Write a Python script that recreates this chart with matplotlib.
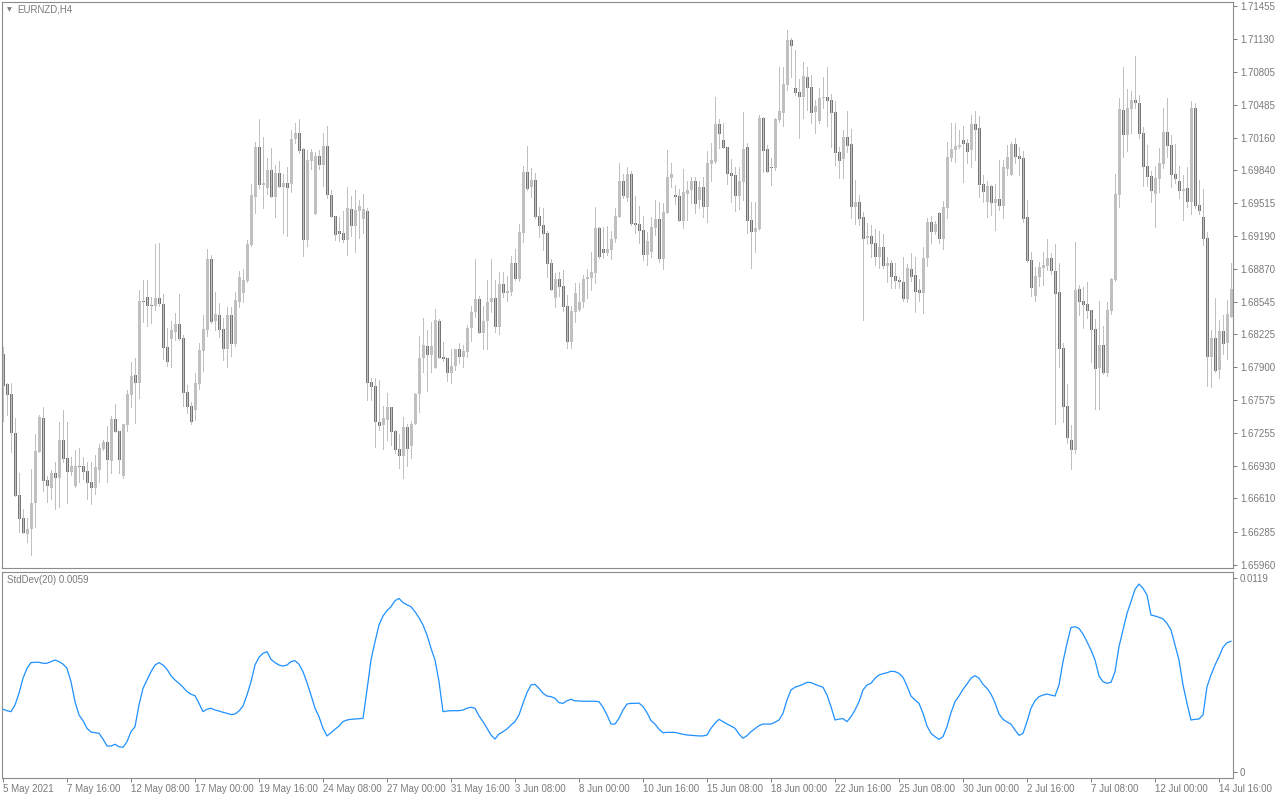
import numpy as np
import matplotlib
matplotlib.use('agg')
import matplotlib.pyplot as plt

# EURNZD H4 candles, bar 0 = 5 May 2021 00:00
opens = [
    1.6803, 1.6774, 1.6764, 1.6725, 1.6664, 1.6642, 1.6626, 1.6631, 1.6657, 1.6707,
    1.6740, 1.6679, 1.6671, 1.6686, 1.6681, 1.6719, 1.6701, 1.6687, 1.6673, 1.6693,
    1.6693, 1.6688, 1.6677, 1.6671, 1.6689, 1.6710, 1.6717, 1.6698, 1.6739, 1.6727,
    1.6683, 1.6733, 1.6763, 1.6782, 1.6775, 1.6855, 1.6859, 1.6851, 1.6850, 1.6858,
    1.6852, 1.6810, 1.6818, 1.6825, 1.6833, 1.6819, 1.6766, 1.6752, 1.6748, 1.6774,
    1.6806, 1.6827, 1.6897, 1.6836, 1.6841, 1.6828, 1.6808, 1.6841, 1.6813, 1.6854,
    1.6863, 1.6875, 1.6910, 1.6958, 1.7007, 1.6969, 1.6966, 1.6984, 1.6958, 1.6981,
    1.6967, 1.6971, 1.6970, 1.7015, 1.7021, 1.7005, 1.6915, 1.6993, 1.6941, 1.6998,
    1.6989, 1.7008, 1.6960, 1.6939, 1.6924, 1.6922, 1.6915, 1.6946, 1.6929, 1.6944,
    1.6936, 1.6944, 1.6776, 1.6772, 1.6736, 1.6733, 1.6738, 1.6751, 1.6727, 1.6710,
    1.6703, 1.6731, 1.6713, 1.6734, 1.6764, 1.6799, 1.6811, 1.6802, 1.6789, 1.6836,
    1.6800, 1.6799, 1.6784, 1.6791, 1.6808, 1.6800, 1.6805, 1.6829, 1.6844, 1.6857,
    1.6824, 1.6836, 1.6854, 1.6858, 1.6830, 1.6872, 1.6863, 1.6864, 1.6893, 1.6877,
    1.6922, 1.6982, 1.6967, 1.6974, 1.6939, 1.6930, 1.6922, 1.6893, 1.6858, 1.6877,
    1.6870, 1.6850, 1.6815, 1.6844, 1.6846, 1.6854, 1.6877, 1.6878, 1.6883, 1.6927,
    1.6906, 1.6902, 1.6905, 1.6916, 1.6938, 1.6973, 1.6957, 1.6980, 1.6932, 1.6931,
    1.6925, 1.6901, 1.6903, 1.6927, 1.6936, 1.6897, 1.6942, 1.6976, 1.6960, 1.6959,
    1.6934, 1.6961, 1.6964, 1.6973, 1.6955, 1.6967, 1.6948, 1.6990, 1.6992, 1.7029,
    1.7014, 1.7007, 1.6981, 1.6979, 1.6959, 1.6972, 1.7007, 1.6935, 1.6923, 1.6926,
    1.7035, 1.7005, 1.6987, 1.6986, 1.7033, 1.7040, 1.7068, 1.7112, 1.7065, 1.7061,
    1.7056, 1.7076, 1.7066, 1.7041, 1.7032, 1.7055, 1.7056, 1.7053, 1.7041, 1.7002,
    1.6995, 1.7017, 1.7010, 1.6948, 1.6953, 1.6938, 1.6917, 1.6919, 1.6912, 1.6899,
    1.6908, 1.6890, 1.6893, 1.6880, 1.6876, 1.6874, 1.6857, 1.6887, 1.6881, 1.6866,
    1.6863, 1.6898, 1.6933, 1.6923, 1.6942, 1.6916, 1.6947, 1.6996, 1.7004, 1.7007,
    1.7014, 1.7011, 1.7004, 1.7029, 1.7025, 1.6970, 1.6953, 1.6968, 1.6952, 1.6956,
    1.6949, 1.6985, 1.6979, 1.7010, 1.6998, 1.6996, 1.6938, 1.6896, 1.6860, 1.6879,
    1.6888, 1.6890, 1.6898, 1.6885, 1.6864, 1.6809, 1.6752, 1.6719, 1.6709, 1.6867,
    1.6855, 1.6852, 1.6846, 1.6828, 1.6789, 1.6812, 1.6784, 1.6845, 1.6876, 1.6960,
    1.7043, 1.7019, 1.7044, 1.7053, 1.7050, 1.7021, 1.6988, 1.6978, 1.6961, 1.6975,
    1.6990, 1.7022, 1.7009, 1.6980, 1.6973, 1.6963, 1.6966, 1.6953, 1.7045, 1.6950,
    1.6938, 1.6917, 1.6800, 1.6819, 1.6787, 1.6826, 1.6814, 1.6840,
]
highs = [
    1.6810, 1.6775, 1.6775, 1.6740, 1.6686, 1.6651, 1.6642, 1.6690, 1.6724, 1.6743,
    1.6751, 1.6683, 1.6689, 1.6697, 1.6736, 1.6748, 1.6736, 1.6702, 1.6709, 1.6711,
    1.6702, 1.6697, 1.6697, 1.6704, 1.6715, 1.6719, 1.6732, 1.6742, 1.6754, 1.6727,
    1.6734, 1.6768, 1.6795, 1.6799, 1.6866, 1.6876, 1.6876, 1.6859, 1.6911, 1.6912,
    1.6862, 1.6829, 1.6836, 1.6843, 1.6862, 1.6822, 1.6773, 1.6756, 1.6784, 1.6814,
    1.6841, 1.6906, 1.6901, 1.6864, 1.6853, 1.6839, 1.6849, 1.6849, 1.6864, 1.6885,
    1.6887, 1.6915, 1.6970, 1.7012, 1.7034, 1.7017, 1.6996, 1.7006, 1.6989, 1.6993,
    1.6980, 1.6987, 1.7023, 1.7030, 1.7034, 1.7006, 1.7004, 1.7005, 1.7002, 1.7004,
    1.7021, 1.7027, 1.6964, 1.6939, 1.6938, 1.6944, 1.6967, 1.6959, 1.6964, 1.6955,
    1.6961, 1.6947, 1.6780, 1.6780, 1.6778, 1.6752, 1.6765, 1.6751, 1.6728, 1.6724,
    1.6741, 1.6734, 1.6737, 1.6765, 1.6821, 1.6839, 1.6827, 1.6835, 1.6847, 1.6838,
    1.6815, 1.6799, 1.6808, 1.6808, 1.6814, 1.6812, 1.6832, 1.6850, 1.6897, 1.6860,
    1.6850, 1.6876, 1.6897, 1.6876, 1.6884, 1.6884, 1.6880, 1.6900, 1.6906, 1.6931,
    1.6988, 1.7008, 1.6986, 1.6981, 1.6948, 1.6947, 1.6924, 1.6897, 1.6883, 1.6884,
    1.6886, 1.6861, 1.6850, 1.6873, 1.6873, 1.6881, 1.6887, 1.6903, 1.6948, 1.6928,
    1.6928, 1.6929, 1.6924, 1.6947, 1.6991, 1.6980, 1.6987, 1.6983, 1.6959, 1.6949,
    1.6939, 1.6923, 1.6938, 1.6955, 1.6953, 1.6952, 1.7004, 1.6991, 1.6969, 1.6965,
    1.6985, 1.6973, 1.6977, 1.6977, 1.6973, 1.6977, 1.7003, 1.7011, 1.7056, 1.7034,
    1.7030, 1.7007, 1.6995, 1.6987, 1.6987, 1.7041, 1.7011, 1.6953, 1.6953, 1.7038,
    1.7036, 1.7009, 1.6996, 1.7035, 1.7085, 1.7085, 1.7122, 1.7114, 1.7102, 1.7074,
    1.7090, 1.7085, 1.7078, 1.7053, 1.7065, 1.7076, 1.7085, 1.7059, 1.7052, 1.7007,
    1.7023, 1.7042, 1.7024, 1.6974, 1.6960, 1.6943, 1.6932, 1.6930, 1.6926, 1.6924,
    1.6921, 1.6899, 1.6896, 1.6893, 1.6879, 1.6899, 1.6892, 1.6902, 1.6899, 1.6877,
    1.6908, 1.6937, 1.6939, 1.6934, 1.6943, 1.6954, 1.7012, 1.7030, 1.7030, 1.7023,
    1.7027, 1.7015, 1.7038, 1.7042, 1.7037, 1.6979, 1.6973, 1.6969, 1.6970, 1.6994,
    1.6994, 1.7009, 1.7012, 1.7016, 1.7007, 1.7003, 1.6955, 1.6903, 1.6889, 1.6894,
    1.6903, 1.6916, 1.6902, 1.6911, 1.6893, 1.6814, 1.6774, 1.6733, 1.6913, 1.6871,
    1.6869, 1.6874, 1.6846, 1.6838, 1.6855, 1.6831, 1.6854, 1.6878, 1.6980, 1.7055,
    1.7085, 1.7064, 1.7062, 1.7096, 1.7058, 1.7026, 1.7009, 1.6983, 1.6988, 1.7006,
    1.7045, 1.7055, 1.7019, 1.7010, 1.6988, 1.6979, 1.6987, 1.7052, 1.7050, 1.6974,
    1.6965, 1.6923, 1.6827, 1.6858, 1.6837, 1.6841, 1.6856, 1.6893,
]
lows = [
    1.6737, 1.6743, 1.6707, 1.6663, 1.6628, 1.6627, 1.6618, 1.6605, 1.6633, 1.6707,
    1.6668, 1.6658, 1.6660, 1.6651, 1.6653, 1.6697, 1.6657, 1.6684, 1.6672, 1.6677,
    1.6680, 1.6660, 1.6656, 1.6665, 1.6677, 1.6709, 1.6677, 1.6686, 1.6726, 1.6686,
    1.6681, 1.6727, 1.6751, 1.6735, 1.6760, 1.6835, 1.6831, 1.6834, 1.6846, 1.6850,
    1.6798, 1.6791, 1.6790, 1.6817, 1.6817, 1.6752, 1.6745, 1.6734, 1.6738, 1.6769,
    1.6786, 1.6821, 1.6834, 1.6827, 1.6820, 1.6797, 1.6790, 1.6801, 1.6811, 1.6849,
    1.6854, 1.6874, 1.6909, 1.6942, 1.6966, 1.6947, 1.6961, 1.6958, 1.6938, 1.6967,
    1.6922, 1.6919, 1.6962, 1.7011, 1.7001, 1.6900, 1.6909, 1.6985, 1.6941, 1.6985,
    1.6968, 1.6957, 1.6938, 1.6915, 1.6914, 1.6913, 1.6901, 1.6919, 1.6903, 1.6917,
    1.6922, 1.6758, 1.6758, 1.6712, 1.6728, 1.6710, 1.6719, 1.6714, 1.6706, 1.6691,
    1.6681, 1.6693, 1.6701, 1.6734, 1.6746, 1.6785, 1.6767, 1.6785, 1.6789, 1.6799,
    1.6796, 1.6777, 1.6775, 1.6787, 1.6794, 1.6790, 1.6800, 1.6816, 1.6840, 1.6824,
    1.6808, 1.6808, 1.6844, 1.6825, 1.6823, 1.6859, 1.6855, 1.6861, 1.6876, 1.6875,
    1.6913, 1.6964, 1.6958, 1.6937, 1.6918, 1.6905, 1.6879, 1.6866, 1.6849, 1.6860,
    1.6845, 1.6809, 1.6809, 1.6835, 1.6845, 1.6849, 1.6858, 1.6866, 1.6873, 1.6898,
    1.6898, 1.6901, 1.6897, 1.6913, 1.6938, 1.6957, 1.6954, 1.6930, 1.6922, 1.6912,
    1.6896, 1.6891, 1.6899, 1.6920, 1.6894, 1.6887, 1.6942, 1.6967, 1.6951, 1.6934,
    1.6927, 1.6935, 1.6952, 1.6942, 1.6947, 1.6938, 1.6933, 1.6973, 1.6991, 1.7006,
    1.7006, 1.6970, 1.6953, 1.6944, 1.6946, 1.6955, 1.6922, 1.6888, 1.6903, 1.6925,
    1.6982, 1.6982, 1.6969, 1.6984, 1.7031, 1.7027, 1.7063, 1.7076, 1.7058, 1.7016,
    1.7035, 1.7043, 1.7030, 1.7021, 1.7030, 1.7045, 1.7027, 1.7007, 1.6989, 1.6976,
    1.6976, 1.7002, 1.6937, 1.6931, 1.6930, 1.6837, 1.6911, 1.6899, 1.6891, 1.6888,
    1.6888, 1.6874, 1.6868, 1.6868, 1.6868, 1.6855, 1.6854, 1.6875, 1.6844, 1.6855,
    1.6843, 1.6890, 1.6912, 1.6921, 1.6912, 1.6906, 1.6937, 1.6993, 1.6992, 1.7006,
    1.6972, 1.6991, 1.6987, 1.6994, 1.6958, 1.6953, 1.6938, 1.6940, 1.6925, 1.6945,
    1.6937, 1.6979, 1.6979, 1.6991, 1.6979, 1.6933, 1.6894, 1.6860, 1.6855, 1.6870,
    1.6871, 1.6886, 1.6882, 1.6734, 1.6790, 1.6736, 1.6716, 1.6690, 1.6706, 1.6841,
    1.6829, 1.6839, 1.6795, 1.6749, 1.6749, 1.6783, 1.6781, 1.6842, 1.6875, 1.6948,
    1.6997, 1.7003, 1.7021, 1.7045, 1.7016, 1.6968, 1.6968, 1.6953, 1.6928, 1.6962,
    1.6986, 1.6997, 1.6967, 1.6971, 1.6957, 1.6935, 1.6948, 1.6941, 1.6947, 1.6941,
    1.6910, 1.6772, 1.6771, 1.6785, 1.6780, 1.6803, 1.6798, 1.6840,
]
closes = [
    1.6772, 1.6763, 1.6725, 1.6663, 1.6641, 1.6627, 1.6631, 1.6657, 1.6708, 1.6741,
    1.6678, 1.6673, 1.6686, 1.6681, 1.6719, 1.6700, 1.6687, 1.6693, 1.6693, 1.6692,
    1.6687, 1.6676, 1.6671, 1.6692, 1.6711, 1.6717, 1.6699, 1.6739, 1.6726, 1.6699,
    1.6734, 1.6764, 1.6781, 1.6775, 1.6855, 1.6854, 1.6850, 1.6850, 1.6858, 1.6852,
    1.6809, 1.6795, 1.6827, 1.6833, 1.6818, 1.6765, 1.6751, 1.6736, 1.6775, 1.6807,
    1.6828, 1.6897, 1.6835, 1.6842, 1.6827, 1.6808, 1.6841, 1.6813, 1.6856, 1.6879,
    1.6876, 1.6911, 1.6960, 1.7007, 1.6969, 1.6971, 1.6984, 1.6958, 1.6981, 1.6967,
    1.6971, 1.6966, 1.7015, 1.7021, 1.7003, 1.6915, 1.6994, 1.7002, 1.6998, 1.6989,
    1.7008, 1.6960, 1.6938, 1.6920, 1.6921, 1.6915, 1.6947, 1.6929, 1.6945, 1.6949,
    1.6946, 1.6775, 1.6771, 1.6736, 1.6732, 1.6740, 1.6751, 1.6726, 1.6709, 1.6703,
    1.6731, 1.6710, 1.6734, 1.6764, 1.6799, 1.6812, 1.6802, 1.6811, 1.6837, 1.6799,
    1.6798, 1.6784, 1.6791, 1.6808, 1.6800, 1.6806, 1.6829, 1.6844, 1.6857, 1.6824,
    1.6836, 1.6854, 1.6858, 1.6830, 1.6872, 1.6863, 1.6865, 1.6893, 1.6877, 1.6923,
    1.6982, 1.6965, 1.6974, 1.6938, 1.6929, 1.6921, 1.6892, 1.6866, 1.6877, 1.6869,
    1.6849, 1.6815, 1.6845, 1.6863, 1.6854, 1.6877, 1.6879, 1.6884, 1.6927, 1.6899,
    1.6902, 1.6906, 1.6916, 1.6939, 1.6973, 1.6959, 1.6980, 1.6931, 1.6930, 1.6924,
    1.6901, 1.6914, 1.6928, 1.6936, 1.6897, 1.6943, 1.6977, 1.6980, 1.6958, 1.6934,
    1.6962, 1.6964, 1.6973, 1.6951, 1.6967, 1.6948, 1.6991, 1.6994, 1.7029, 1.7020,
    1.7006, 1.6980, 1.6978, 1.6959, 1.6973, 1.7005, 1.6934, 1.6923, 1.6927, 1.7035,
    1.7003, 1.6982, 1.6986, 1.7034, 1.7042, 1.7069, 1.7112, 1.7106, 1.7060, 1.7056,
    1.7077, 1.7065, 1.7040, 1.7047, 1.7055, 1.7056, 1.7052, 1.7040, 1.7001, 1.6993,
    1.7017, 1.7008, 1.6948, 1.6953, 1.6936, 1.6916, 1.6919, 1.6911, 1.6899, 1.6908,
    1.6890, 1.6893, 1.6879, 1.6875, 1.6874, 1.6857, 1.6888, 1.6879, 1.6864, 1.6863,
    1.6898, 1.6933, 1.6923, 1.6931, 1.6916, 1.6948, 1.6997, 1.7005, 1.7008, 1.7009,
    1.7010, 1.7002, 1.7029, 1.7023, 1.6969, 1.6962, 1.6968, 1.6952, 1.6956, 1.6949,
    1.6987, 1.6997, 1.7010, 1.6997, 1.6995, 1.6936, 1.6895, 1.6868, 1.6880, 1.6889,
    1.6891, 1.6898, 1.6885, 1.6862, 1.6808, 1.6751, 1.6720, 1.6709, 1.6866, 1.6854,
    1.6851, 1.6845, 1.6827, 1.6788, 1.6812, 1.6784, 1.6846, 1.6877, 1.6961, 1.7044,
    1.7019, 1.7045, 1.7053, 1.7050, 1.7020, 1.6987, 1.6977, 1.6963, 1.6976, 1.6991,
    1.7022, 1.7008, 1.6979, 1.6975, 1.6963, 1.6965, 1.6953, 1.7045, 1.6949, 1.6944,
    1.6916, 1.6800, 1.6819, 1.6786, 1.6826, 1.6813, 1.6842, 1.6867,
]
stddev = [
    0.00385, 0.00376, 0.00370, 0.00411, 0.00483, 0.00575, 0.00636, 0.00671, 0.00673, 0.00673,
    0.00667, 0.00667, 0.00677, 0.00687, 0.00677, 0.00662, 0.00636, 0.00554, 0.00431, 0.00350,
    0.00315, 0.00268, 0.00245, 0.00241, 0.00237, 0.00202, 0.00159, 0.00159, 0.00170, 0.00155,
    0.00151, 0.00186, 0.00247, 0.00278, 0.00411, 0.00513, 0.00564, 0.00615, 0.00656, 0.00671,
    0.00656, 0.00630, 0.00591, 0.00564, 0.00544, 0.00520, 0.00493, 0.00477, 0.00468, 0.00421,
    0.00370, 0.00385, 0.00391, 0.00380, 0.00374, 0.00366, 0.00360, 0.00352, 0.00356, 0.00374,
    0.00405, 0.00472, 0.00554, 0.00656, 0.00704, 0.00728, 0.00738, 0.00691, 0.00671, 0.00656,
    0.00650, 0.00656, 0.00677, 0.00683, 0.00661, 0.00615, 0.00548, 0.00472, 0.00391, 0.00339,
    0.00268, 0.00221, 0.00241, 0.00262, 0.00282, 0.00309, 0.00319, 0.00323, 0.00325, 0.00327,
    0.00329, 0.00503, 0.00687, 0.00799, 0.00902, 0.00957, 0.00990, 0.01014, 0.01051, 0.01065,
    0.01039, 0.01026, 0.01014, 0.00983, 0.00947, 0.00902, 0.00840, 0.00759, 0.00687, 0.00554,
    0.00370, 0.00374, 0.00376, 0.00376, 0.00376, 0.00380, 0.00391, 0.00397, 0.00391, 0.00344,
    0.00309, 0.00268, 0.00227, 0.00202, 0.00233, 0.00247, 0.00264, 0.00288, 0.00309, 0.00350,
    0.00421, 0.00487, 0.00534, 0.00538, 0.00513, 0.00483, 0.00466, 0.00462, 0.00452, 0.00425,
    0.00421, 0.00437, 0.00446, 0.00436, 0.00436, 0.00434, 0.00434, 0.00434, 0.00434, 0.00431,
    0.00397, 0.00350, 0.00294, 0.00294, 0.00329, 0.00380, 0.00417, 0.00421, 0.00421, 0.00423,
    0.00401, 0.00364, 0.00315, 0.00294, 0.00262, 0.00241, 0.00243, 0.00243, 0.00243, 0.00237,
    0.00231, 0.00227, 0.00225, 0.00223, 0.00221, 0.00221, 0.00227, 0.00268, 0.00299, 0.00323,
    0.00309, 0.00294, 0.00282, 0.00268, 0.00233, 0.00207, 0.00223, 0.00247, 0.00266, 0.00284,
    0.00294, 0.00294, 0.00294, 0.00305, 0.00319, 0.00360, 0.00442, 0.00503, 0.00520, 0.00528,
    0.00538, 0.00550, 0.00548, 0.00538, 0.00528, 0.00520, 0.00472, 0.00401, 0.00319, 0.00325,
    0.00327, 0.00309, 0.00339, 0.00380, 0.00431, 0.00503, 0.00534, 0.00544, 0.00575, 0.00595,
    0.00603, 0.00609, 0.00618, 0.00616, 0.00605, 0.00581, 0.00528, 0.00466, 0.00442, 0.00421,
    0.00360, 0.00282, 0.00237, 0.00217, 0.00200, 0.00217, 0.00278, 0.00364, 0.00431, 0.00466,
    0.00507, 0.00540, 0.00575, 0.00591, 0.00575, 0.00538, 0.00513, 0.00478, 0.00425, 0.00356,
    0.00323, 0.00307, 0.00293, 0.00258, 0.00225, 0.00237, 0.00309, 0.00391, 0.00437, 0.00462,
    0.00472, 0.00478, 0.00472, 0.00466, 0.00534, 0.00677, 0.00789, 0.00887, 0.00891, 0.00881,
    0.00846, 0.00799, 0.00748, 0.00687, 0.00589, 0.00554, 0.00544, 0.00550, 0.00615, 0.00769,
    0.00871, 0.00973, 0.01045, 0.01121, 0.01153, 0.01127, 0.01086, 0.00963, 0.00957, 0.00949,
    0.00939, 0.00912, 0.00871, 0.00779, 0.00687, 0.00534, 0.00421, 0.00319, 0.00323, 0.00325,
    0.00350, 0.00523, 0.00595, 0.00656, 0.00707, 0.00765, 0.00793, 0.00802,
]

price_ticks = [1.71455, 1.71130, 1.70805, 1.70485, 1.70160, 1.69840, 1.69515, 1.69190,
               1.68870, 1.68545, 1.68225, 1.67900, 1.67575, 1.67255, 1.66930, 1.66610,
               1.66285, 1.65960]
date_labels = ['5 May 2021', '7 May 16:00', '12 May 08:00', '17 May 00:00', '19 May 16:00',
               '24 May 08:00', '27 May 00:00', '31 May 16:00', '3 Jun 08:00', '8 Jun 00:00',
               '10 Jun 16:00', '15 Jun 08:00', '18 Jun 00:00', '22 Jun 16:00', '25 Jun 08:00',
               '30 Jun 00:00', '2 Jul 16:00', '7 Jul 08:00', '12 Jul 00:00', '14 Jul 16:00']
date_bars = list(range(0, 16 * len(date_labels), 16))

bull_col = '#c0c0c0'
bear_col = '#767676'
wick_col = '#c0c0c0'
frame_col = '#8c8c8c'
text_col = '#7a7a7a'
line_col = '#1e90ff'
plt.rcParams['font.family'] = ['Liberation Sans', 'DejaVu Sans']

fig = plt.figure(figsize=(12.8, 8), dpi=100)
W, H = 1280.0, 800.0
ax1 = fig.add_axes([2 / W, 1 - 568 / H, 1231 / W, 566 / H])
ax2 = fig.add_axes([2 / W, 1 - 778 / H, 1231 / W, 206 / H])

o = np.array(opens)
h = np.array(highs)
l = np.array(lows)
c = np.array(closes)
idx = np.arange(len(c))
cols = np.where(c >= o, bull_col, bear_col)

# wicks (same silver for up and down bars), then bodies
ax1.vlines(idx, l, h, colors=wick_col, linewidth=0.72, antialiased=False)
body_lo = np.minimum(o, c)
body_h = np.maximum(np.abs(c - o), 0.00009)
ax1.bar(idx, body_h, bottom=body_lo, width=0.75, color=cols, linewidth=0,
        antialiased=False)

ax1.set_xlim(-0.25, 307.5)
ax1.set_ylim(1.65926, 1.71494)
ax1.yaxis.tick_right()
ax1.set_yticks(price_ticks)
ax1.set_yticklabels([f'{v:.5f}' for v in price_ticks])
ax1.set_xticks([])
ax1.tick_params(axis='y', direction='out', length=3, width=0.7, colors=text_col,
                labelsize=7, pad=2)
for s in ax1.spines.values():
    s.set_color(frame_col)
    s.set_linewidth(0.8)

fig.text(7 / W, 1 - 10 / H, '\u25bc', fontsize=4.5, color=text_col, va='center',
         family='DejaVu Sans')
fig.text(17 / W, 1 - 10 / H, 'EURNZD,H4', fontsize=7, color=text_col, va='center')

# StdDev(20) sub-window
ax2.plot(idx, stddev, color=line_col, linewidth=0.9)
ax2.set_xlim(-0.25, 307.5)
ax2.set_ylim(-0.00037, 0.01227)
ax2.yaxis.tick_right()
ax2.set_yticks([0, 0.0119])
ax2.set_yticklabels(['0', '0.0119'])
ax2.tick_params(axis='y', direction='out', length=3, width=0.7, colors=text_col,
                labelsize=7, pad=2)
ax2.set_xticks(date_bars)
ax2.set_xticklabels(date_labels, ha='left')
ax2.tick_params(axis='x', direction='out', length=3, width=0.7, colors=text_col,
                labelsize=7, pad=1)
for s in ax2.spines.values():
    s.set_color(frame_col)
    s.set_linewidth(0.8)
fig.text(7 / W, 1 - 580 / H, 'StdDev(20) 0.0059', fontsize=7, color=text_col,
         va='center')

fig.savefig('out.png', dpi=100, facecolor='white')
